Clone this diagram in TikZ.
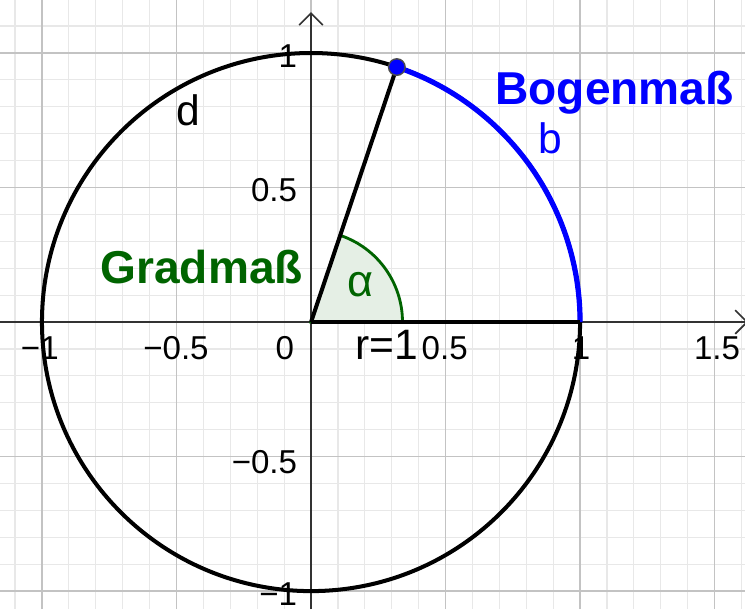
\documentclass[tikz,border=0pt]{standalone}
\usepackage{fontspec}
\setmainfont{Liberation Sans}
\usetikzlibrary{arrows.meta}
\definecolor{gradgreen}{RGB}{0,100,0}
\definecolor{bogenblue}{RGB}{0,0,255}
\definecolor{minorgrid}{RGB}{232,232,232}
\definecolor{majorgrid}{RGB}{195,195,195}
\definecolor{axisgray}{RGB}{50,50,50}

\begin{document}
\begin{tikzpicture}[
    x=4cm, y=4cm,
    axisline/.style={draw=axisgray, line width=0.7pt, -{Straight Barb[length=5pt,width=10pt]}},
    ticklabel/.style={font=\fontsize{14}{16}\selectfont, inner sep=0pt},
    thickline/.style={line width=1.7pt, black},
    bigtext/.style={font=\fontsize{18}{21}\selectfont, inner sep=0pt, anchor=base west},
    boldtext/.style={font=\fontsize{19.5}{22}\selectfont\bfseries, inner sep=0pt, anchor=base west}
]
\useasboundingbox (-1.156,-1.067) rectangle (1.613,1.197);
\fill[white] (-1.156,-1.067) rectangle (1.613,1.197);
\draw[minorgrid, line width=0.5pt, step=0.1] (-1.156,-1.067) grid (1.613,1.197);
\draw[majorgrid, line width=0.6pt, step=0.5] (-1.156,-1.067) grid (1.613,1.197);

\coordinate (O) at (0,0);
\coordinate (A) at (1,0);
\coordinate (P) at (71.4:1);
\coordinate (xend) at (1.625,0);
\coordinate (yend) at (0,1.152);

\draw[axisline] (-1.156,0) -- (xend);
\draw[axisline] (0,-1.067) -- (yend);

\node[ticklabel, anchor=base] (xm1) at (-1.008,-0.141) {−1};
\node[ticklabel, anchor=base] (xm05) at (-0.502,-0.141) {−0.5};
\node[ticklabel, anchor=base] (x0) at (-0.097,-0.141) {0};
\node[ticklabel, anchor=base] (x05) at (0.497,-0.141) {0.5};
\node[ticklabel, anchor=base] (x1) at (1.004,-0.141) {1};
\node[ticklabel, anchor=base] (x15) at (1.509,-0.141) {1.5};
\node[ticklabel, anchor=east] (y1) at (-0.05,0.99) {1};
\node[ticklabel, anchor=east] (y05) at (-0.05,0.49) {0.5};
\node[ticklabel, anchor=east] (ym05) at (-0.05,-0.52) {−0.5};
\node[ticklabel, anchor=east] (ym1) at (-0.05,-1.01) {−1};

\filldraw[fill=gradgreen!10, draw=gradgreen, line width=1.2pt] (O) -- (0.34,0) arc[start angle=0, end angle=71.4, radius=0.34] -- cycle;
\draw[thickline] (O) circle[radius=1];
\draw[bogenblue, line width=2.2pt] (A) arc[start angle=0, end angle=71.4, radius=1];
\draw[thickline] (O) -- (A);
\draw[thickline] (O) -- (P);
\node[circle, fill=bogenblue, draw=black!70, line width=0.6pt, inner sep=0pt, minimum size=7pt] (pt) at (P) {};

\node[font=\fontsize{18}{21}\selectfont, inner sep=0pt, anchor=base] (rlabel) at (0.28,-0.141) {r=1};
\node[font=\fontsize{19}{22}\selectfont, inner sep=0pt, text=gradgreen] (alpha) at (0.182,0.138) {α};
\node[boldtext, text=gradgreen] (grad) at (-0.784,0.145) {Gradmaß};
\node[boldtext, text=bogenblue] (bogen) at (0.684,0.807) {Bogenmaß};
\node[bigtext, text=bogenblue] (b) at (0.845,0.628) {b};
\node[bigtext] (d) at (-0.503,0.732) {d};
\end{tikzpicture}
\end{document}
